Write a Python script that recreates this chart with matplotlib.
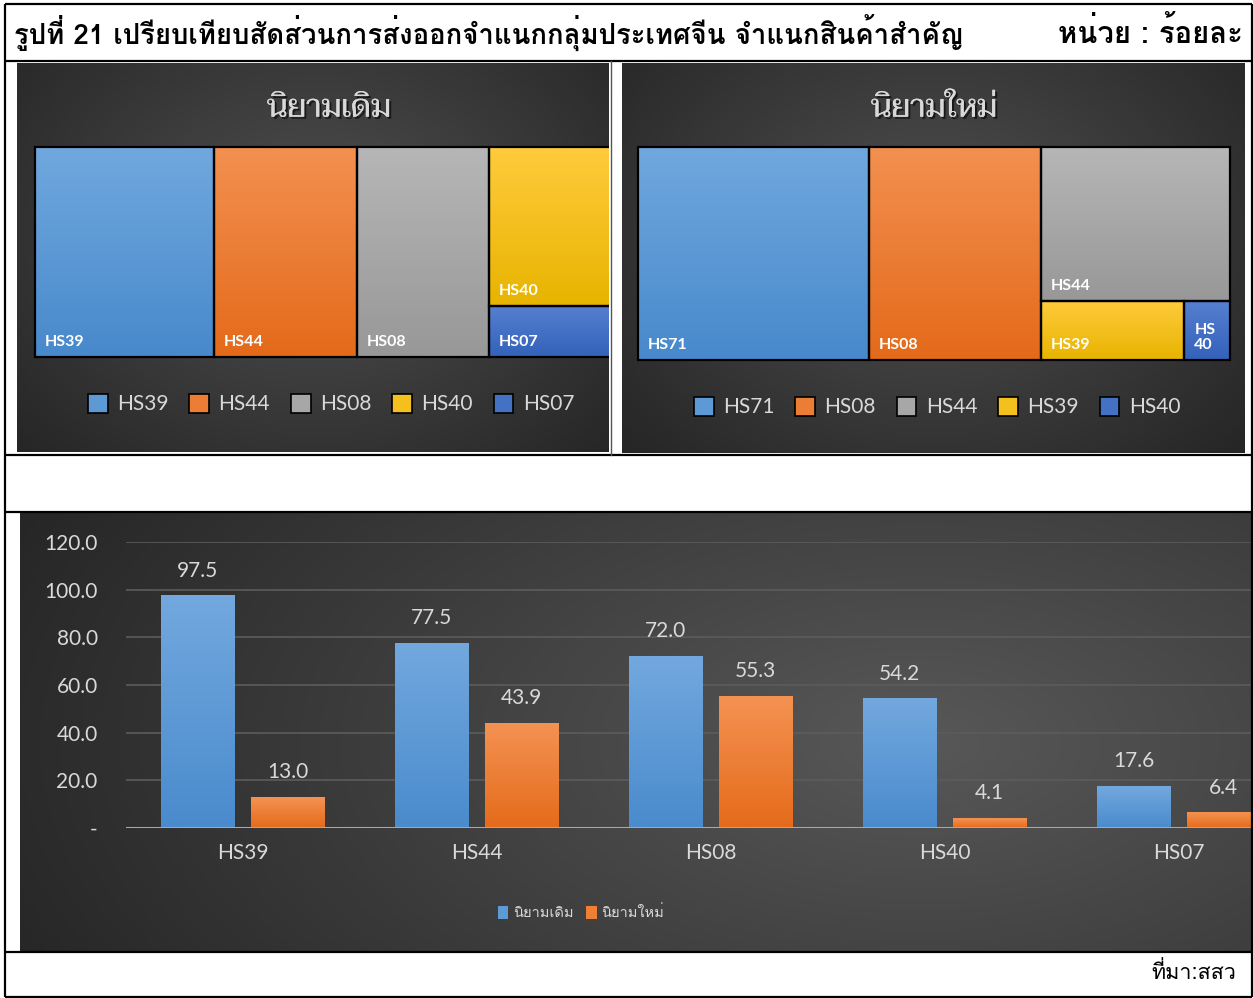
import numpy as np
import matplotlib
matplotlib.use('Agg')
import matplotlib.pyplot as plt
import matplotlib.patheffects as pe
from matplotlib.patches import Rectangle, Patch

W, H = 1253, 998
THAI = ['Loma', 'Sarabun', 'DejaVu Sans']
THAI_LOOP = ['Taviraj', 'Loma', 'DejaVu Sans']
LATIN = ['Lato', 'DejaVu Sans']
TXT = '#d9d9d9'

# ---- data ----
title_text = 'รูปที่ 21 เปรียบเทียบสัดส่วนการส่งออกจำแนกกลุ่มประเทศจีน จำแนกสินค้าสำคัญ'
unit_text = 'หน่วย : ร้อยละ'
source_text = 'ที่มา:สสว'
series_names = ['นิยามเดิม', 'นิยามใหม่']

# treemaps
old_codes = ['HS39', 'HS44', 'HS08', 'HS40', 'HS07']
old_values = [97.5, 77.5, 72.0, 54.2, 17.6]
new_codes = ['HS71', 'HS08', 'HS44', 'HS39', 'HS40']
new_values = [74.6, 55.3, 43.9, 13.0, 4.1]

# bar chart
bar_categories = ['HS39', 'HS44', 'HS08', 'HS40', 'HS07']
bar_old = [97.5, 77.5, 72.0, 54.2, 17.6]
bar_new = [13.0, 43.9, 55.3, 4.1, 6.4]
y_ticks = [0, 20, 40, 60, 80, 100, 120]

# excel-like colours (top, bottom of gradient)
tm_colors = [((112, 168, 222), (72, 137, 204)),
             ((243, 144, 80), (228, 106, 26)),
             ((182, 182, 182), (152, 152, 152)),
             ((255, 203, 60), (232, 180, 0)),
             ((86, 128, 208), (52, 98, 186))]
blue_grad = ((114, 168, 222), (74, 139, 205))
orange_grad = ((244, 146, 82), (229, 107, 27))

fig = plt.figure(figsize=(W / 100, H / 100), dpi=100)
fig.patch.set_facecolor('white')


def px_axes(x0, y0, x1, y1):
    return fig.add_axes([x0 / W, 1 - y1 / H, (x1 - x0) / W, (y1 - y0) / H])


def mid(c):
    top, bot = c
    return tuple((a + b) / 2 / 255 for a, b in zip(top, bot))


def vgrad(c, n=64):
    top, bot = np.array(c[0]) / 255, np.array(c[1]) / 255
    t = np.linspace(0, 1, n)[:, None]
    return (top * (1 - t) + bot * t)[:, None, :]


def radial_bg(ax, w, h, cx, cy, rx, ry, inner, outer):
    yy, xx = np.mgrid[0:h, 0:w]
    d = np.sqrt(((xx - cx) / rx) ** 2 + ((yy - cy) / ry) ** 2)
    t = np.clip(d, 0, 1)[..., None]
    img = np.array(inner) / 255 * (1 - t) + np.array(outer) / 255 * t
    ax.imshow(img, extent=(0, w, h, 0), aspect='auto', zorder=0, interpolation='bilinear')
    ax.set_xlim(0, w)
    ax.set_ylim(h, 0)
    ax.axis('off')


def squarify(values, x, y, w, h):
    total = float(sum(values))
    areas = [v * w * h / total for v in values]
    out = []
    i = 0
    while i < len(areas):
        short = min(w, h)

        def worst(row):
            th = sum(row) / short
            return max(max(th / (a / th), (a / th) / th) for a in row)

        row = [areas[i]]
        j = i + 1
        while j < len(areas) and worst(row + [areas[j]]) <= worst(row):
            row.append(areas[j])
            j += 1
        th = sum(row) / short
        pos = 0
        for a in row:
            ln = a / th
            if w >= h:
                out.append((x, y + pos, th, ln))
            else:
                out.append((x + pos, y, ln, th))
            pos += ln
        if w >= h:
            x += th
            w -= th
        else:
            y += th
            h -= th
        i = j
    return out


def draw_treemap(ax, codes, values, region, title, leg_xy):
    handles = []
    for code, (rx, ry, rw, rh), c in zip(codes, squarify(values, *region), tm_colors):
        ax.add_patch(Rectangle((rx, ry), rw, rh, facecolor=mid(c), edgecolor='none', zorder=2))
        ax.imshow(vgrad(c), extent=(rx, rx + rw, ry + rh, ry), aspect='auto',
                  zorder=2.5, interpolation='bilinear')
        ax.add_patch(Rectangle((rx, ry), rw, rh, facecolor='none', edgecolor='black',
                               lw=1.6, zorder=3))
        label = code if rw > 60 else code[:2] + '\n' + code[2:]
        ax.text(rx + 10, ry + rh - 8, label, color='white', fontsize=11.5, fontweight='bold',
                family=LATIN, ha='left', va='bottom', linespacing=1.15, zorder=4)
        handles.append(Patch(facecolor=mid(c), edgecolor='black', lw=1.2))
    ax.text(312, 46, title, fontsize=23, color=TXT, family=THAI_LOOP,
            ha='center', va='center', zorder=4,
            path_effects=[pe.withSimplePatchShadow(offset=(1.5, -1.5), shadow_rgbFace='black', alpha=0.6),
                          pe.Normal()])
    leg = ax.legend(handles, codes, loc='center', bbox_to_anchor=leg_xy,
                    bbox_transform=ax.transData, ncol=5, frameon=False,
                    handlelength=0.95, handleheight=1.05, handletextpad=0.45,
                    columnspacing=1.0, prop={'family': LATIN, 'size': 15})
    for t in leg.get_texts():
        t.set_color(TXT)


# ---- treemap panels ----
axL = px_axes(17, 63, 609, 452)
radial_bg(axL, 592, 389, 300, 170, 430, 330, (80, 80, 80), (36, 36, 36))
draw_treemap(axL, old_codes, old_values, (18, 84, 586, 210), series_names[0], (314, 341))
axL.set_xlim(0, 592)
axL.set_ylim(389, 0)

axR = px_axes(622, 63, 1245, 453)
radial_bg(axR, 623, 390, 310, 170, 440, 330, (80, 80, 80), (36, 36, 36))
draw_treemap(axR, new_codes, new_values, (16, 84, 591.6, 213.4), series_names[1], (315, 344))
axR.set_xlim(0, 623)
axR.set_ylim(390, 0)

# ---- bar chart ----
axP = px_axes(20, 513, 1251, 952)
radial_bg(axP, 1231, 439, 900, 230, 1000, 520, (88, 88, 88), (38, 38, 38))

ax = px_axes(125.5, 542, 1251, 828)
ax.set_facecolor('none')
x = np.arange(len(bar_categories))
bw, off = 0.312, 0.192
b1 = ax.bar(x - off, bar_old, bw, color=mid(blue_grad), zorder=3)
b2 = ax.bar(x + off, bar_new, bw, color=mid(orange_grad), zorder=3)
for bars, g in ((b1, blue_grad), (b2, orange_grad)):
    for b in bars:
        ax.imshow(vgrad(g), extent=(b.get_x(), b.get_x() + b.get_width(), 0, b.get_height()),
                  aspect='auto', zorder=3.5, interpolation='bilinear')
for bars, vals in ((b1, bar_old), (b2, bar_new)):
    for b, v in zip(bars, vals):
        ax.annotate(f'{v:.1f}', (b.get_x() + b.get_width() / 2, v), xytext=(0, 18),
                    textcoords='offset points', ha='center', va='center', fontsize=15,
                    color=TXT, family=LATIN, annotation_clip=False)
ax.set_xlim(-0.5, 4.31)
ax.set_ylim(0, 120)
ax.set_yticks(y_ticks)
ax.set_yticklabels(['-' if v == 0 else f'{v:.1f}' for v in y_ticks])
ax.set_xticks(x)
ax.set_xticklabels(bar_categories)
ax.tick_params(length=0, colors=TXT, labelsize=15)
ax.tick_params(axis='y', pad=20)
ax.tick_params(axis='x', pad=11)
for t in ax.get_xticklabels() + ax.get_yticklabels():
    t.set_family(LATIN)
ax.yaxis.grid(True, color='#5c5c5c', lw=1.2)
ax.set_axisbelow(True)
for s in ax.spines.values():
    s.set_visible(False)
ax.axhline(0, color='#a8a8a8', lw=2.2, zorder=4)
leg = fig.legend([Patch(facecolor=mid(blue_grad)), Patch(facecolor=mid(orange_grad))], series_names,
                 loc='center', bbox_to_anchor=(581 / W, 1 - 913 / H), ncol=2, frameon=False,
                 handlelength=0.7, handleheight=1.0, handletextpad=0.3, columnspacing=0.9,
                 prop={'family': THAI, 'size': 10.5})
for t in leg.get_texts():
    t.set_color(TXT)

# ---- table frame and texts ----
fr = px_axes(0, 0, W, H)
fr.set_xlim(0, W)
fr.set_ylim(H, 0)
fr.axis('off')
fr.patch.set_alpha(0)
kw = dict(color='black', lw=1.6, solid_capstyle='butt')
for yy in (4, 61, 455, 512, 952, 997):
    fr.plot([5, 1251.5], [yy, yy], **kw)
fr.plot([5, 5], [4, 997], **kw)
fr.plot([1251.5, 1251.5], [4, 997], **kw)
fr.plot([610.5, 610.5], [61, 455], color='#555555', lw=1.0)

t_title = fr.text(14, 33, title_text, fontsize=17, fontweight='bold', family=THAI,
                  ha='left', va='center', color='black')
t_unit = fr.text(1243, 33, unit_text, fontsize=17, fontweight='bold', family=THAI,
                 ha='right', va='center', color='black')
t_src = fr.text(1236, 973, source_text, fontsize=15, family=THAI,
                ha='right', va='center', color='black')

# scale texts to the widths seen in the reference
fig.canvas.draw()
r = fig.canvas.get_renderer()
for t, target in ((t_title, 951), (t_unit, 185), (t_src, 85)):
    wpx = t.get_window_extent(r).width
    t.set_fontsize(t.get_fontsize() * target / wpx)

fig.savefig('out.png', dpi=100)
